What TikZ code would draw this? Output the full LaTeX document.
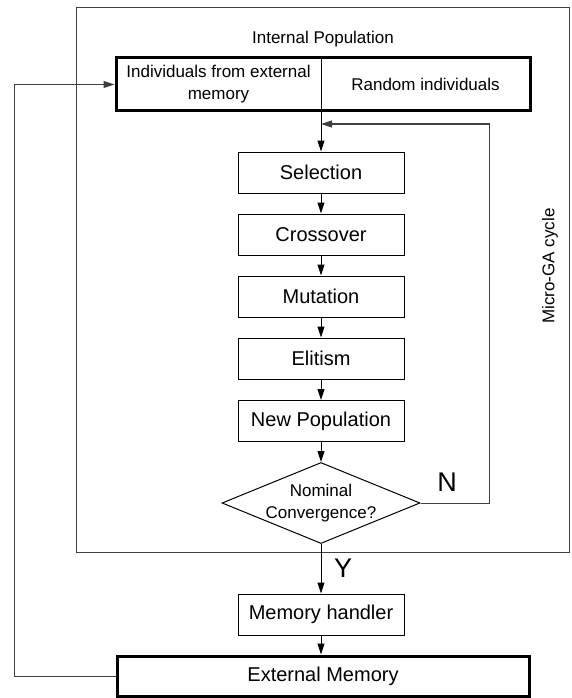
\documentclass[tikz,border=0pt]{standalone}
\usepackage{fontspec}
\setmainfont{Liberation Sans}
\usetikzlibrary{shapes.geometric,arrows.meta}
\tikzset{
  thin line/.style={line width=1pt, draw=black!75},
  stepbox/.style={draw, line width=1pt, minimum width=166pt, minimum height=41pt, inner sep=0pt, font=\fontsize{20}{24}\selectfont},
  boldbox/.style={draw, line width=3pt, inner sep=0pt},
  small text/.style={font=\fontsize{17}{22}\selectfont, align=center, inner sep=0pt},
  big label/.style={font=\fontsize{27}{30}\selectfont, inner sep=0pt},
  arr/.style={line width=1pt, -{Triangle[length=11pt,width=7pt]}},
}
\begin{document}
\begin{tikzpicture}[x=1pt,y=-1pt]
\useasboundingbox (0,0) rectangle (572,698);
% outer frame
\node (outer) [thin line, draw, minimum width=493pt, minimum height=544pt, inner sep=0pt] at (322.5,280) {};
\node (intpop) [small text] at (323,39) {Internal Population};
\node (micro) [small text, rotate=90] at (550,266) {Micro-GA cycle};
% population box
\node (pop) [boldbox, minimum width=414pt, minimum height=53pt] at (323,84.5) {};
\node (ind) [small text] at (218.5,84.5) {Individuals from external\\memory};
\node (rnd) [small text] at (425.5,84.5) {Random individuals};
% steps
\node (sel) [stepbox] at (321,172.5) {Selection};
\node (cro) [stepbox] at (321,234.5) {Crossover};
\node (mut) [stepbox] at (321,296.5) {Mutation};
\node (eli) [stepbox] at (321,358.5) {Elitism};
\node (newp) [stepbox] at (321,421) {New Population};
\node (conv) [diamond, draw, line width=1pt, minimum width=198pt, minimum height=81pt, inner sep=0pt] at (321,503) {};
\node (convt) [small text] at (conv) {Nominal\\Convergence?};
\node (mem) [stepbox] at (321,614.5) {Memory handler};
\node (ext) [boldbox, minimum width=412pt, minimum height=40pt, font=\fontsize{20}{24}\selectfont] at (323,676) {External Memory};
% labels
\node (nlab) [big label] at (447,482) {N};
\node (ylab) [big label] at (343,568) {Y};
% coordinates
\coordinate (lft) at (14,676);
\coordinate (nr) at (489,124);
% divider and connectors
\draw[line width=1pt] (pop.north -| sel.north) -- (pop.south -| sel.north);
\draw[arr] (pop.south -| sel.north) -- (sel.north);
\draw[arr] (sel) -- (cro);
\draw[arr] (cro) -- (mut);
\draw[arr] (mut) -- (eli);
\draw[arr] (eli) -- (newp);
\draw[arr] (newp) -- (conv);
\draw[arr] (conv) -- (mem);
\draw[arr] (mem) -- (mem |- ext.north);
\draw[arr, draw=black!75] (conv.east) -| (nr) -- (nr -| sel.north);
\draw[arr, draw=black!75] (ext.west) -- (lft) |- (pop.west);
\end{tikzpicture}
\end{document}
